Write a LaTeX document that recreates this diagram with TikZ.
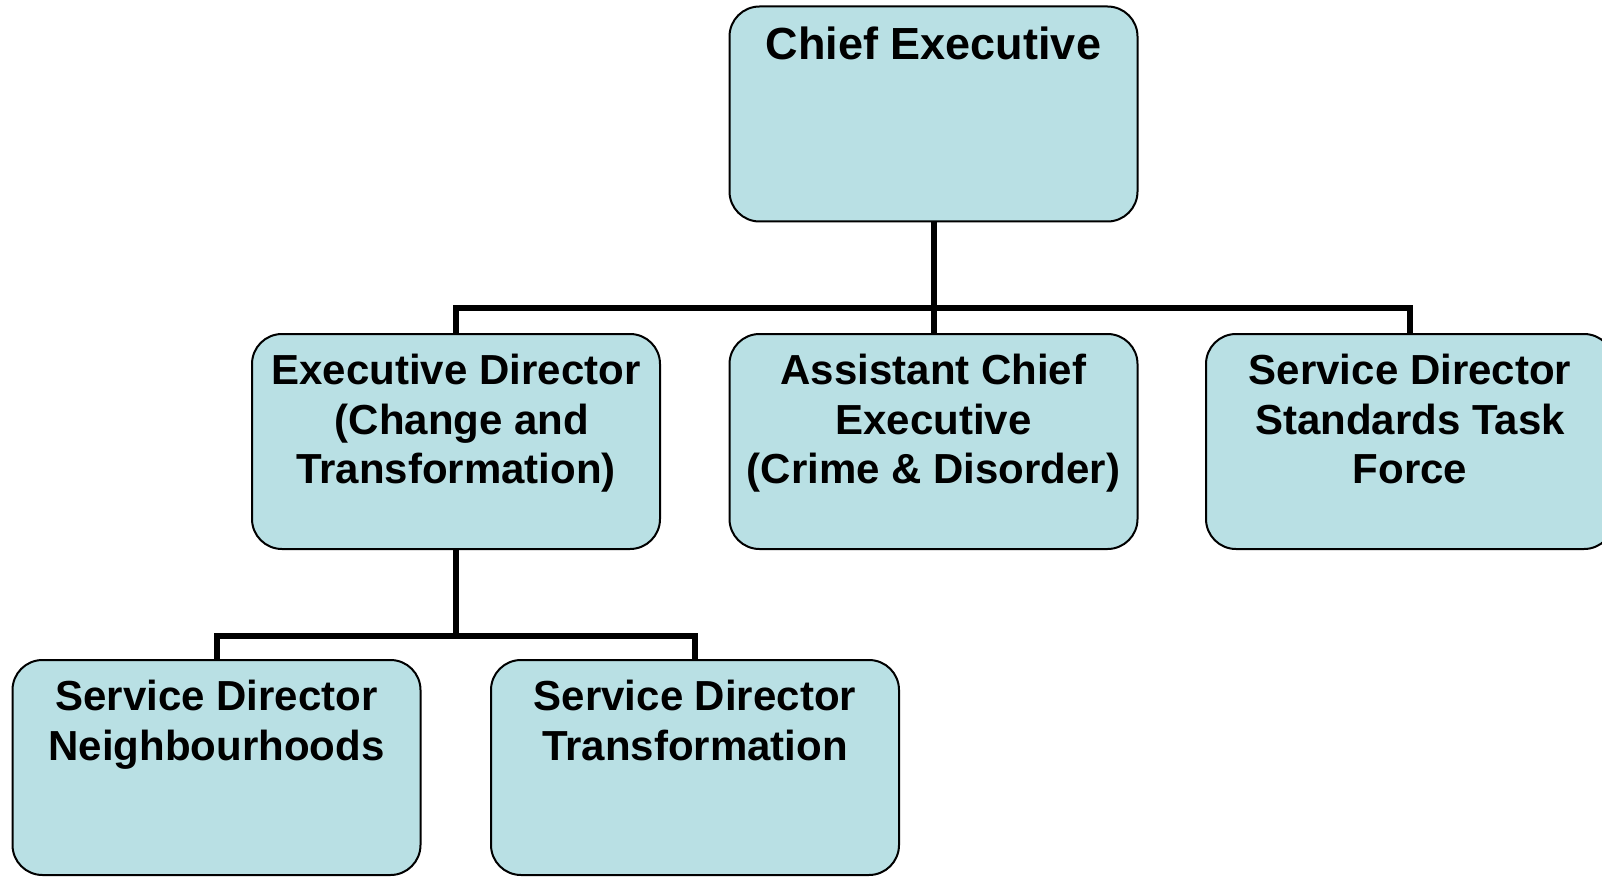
\documentclass[tikz,border=0pt]{standalone}
\usepackage{fontspec}
\setmainfont{Liberation Sans}
\usepackage{xcolor}
\usetikzlibrary{positioning}
\definecolor{boxfill}{RGB}{185,224,228}

\tikzset{
  box/.style={draw=black, line width=2pt, fill=boxfill, rounded corners=30pt,
    minimum width=408pt, minimum height=215pt, inner sep=0pt},
  lbl/.style={anchor=north, align=center, inner sep=0pt,
    font=\bfseries\fontsize{42}{49.5}\selectfont, execute at begin node=\strut},
  conn/.style={line width=6pt, black}
}

\begin{document}
\begin{tikzpicture}[x=1pt,y=-1pt]
\useasboundingbox (0,0) rectangle (1602,877);
\coordinate (TOP) at (933.5,114);
\coordinate (BARA) at (933.5,308);
\coordinate (BARB) at (456,636);
%\coordinate (RIGHT) at (1602,441);
\node[box] (chief) at (TOP) {};
\node[box] (ed) at (456,441.5) {};
\node[box] (acx) at (933.5,441.5) {};
\node[box] (sdst) at (1410,441.5) {};
\node[box] (sdn) at (216.5,767.5) {};
\node[box] (sdt) at (695,767.5) {};
% texts
\node[lbl, font=\bfseries\fontsize{45}{52}\selectfont] (chieft) at ([yshift=-17.6pt]chief.north) {Chief Executive};
\node[lbl] (edt) at ([yshift=-21pt]ed.north) {Executive Director\\\hspace*{12pt}(Change and\\Transformation)};
\node[lbl] (acxt) at ([yshift=-21pt]acx.north) {Assistant Chief\\Executive\\(Crime \& Disorder)};
\node[lbl] (sdstt) at ([yshift=-21pt]sdst.north) {Service Director\\Standards Task\\Force};
\node[lbl] (sdnt) at ([yshift=-21pt]sdn.north) {Service Director\\Neighbourhoods};
\node[lbl] (sdtt) at ([yshift=-21pt]sdt.north) {Service Director\\Transformation};
% connectors
\draw[conn] (chief.south) -- (acx.north);
\draw[conn] (ed.north) |- (BARA) -| (sdst.north);
\draw[conn] (ed.south) -- (BARB);
\draw[conn] (sdn.north) |- (BARB) -| (sdt.north);
\end{tikzpicture}
\end{document}
